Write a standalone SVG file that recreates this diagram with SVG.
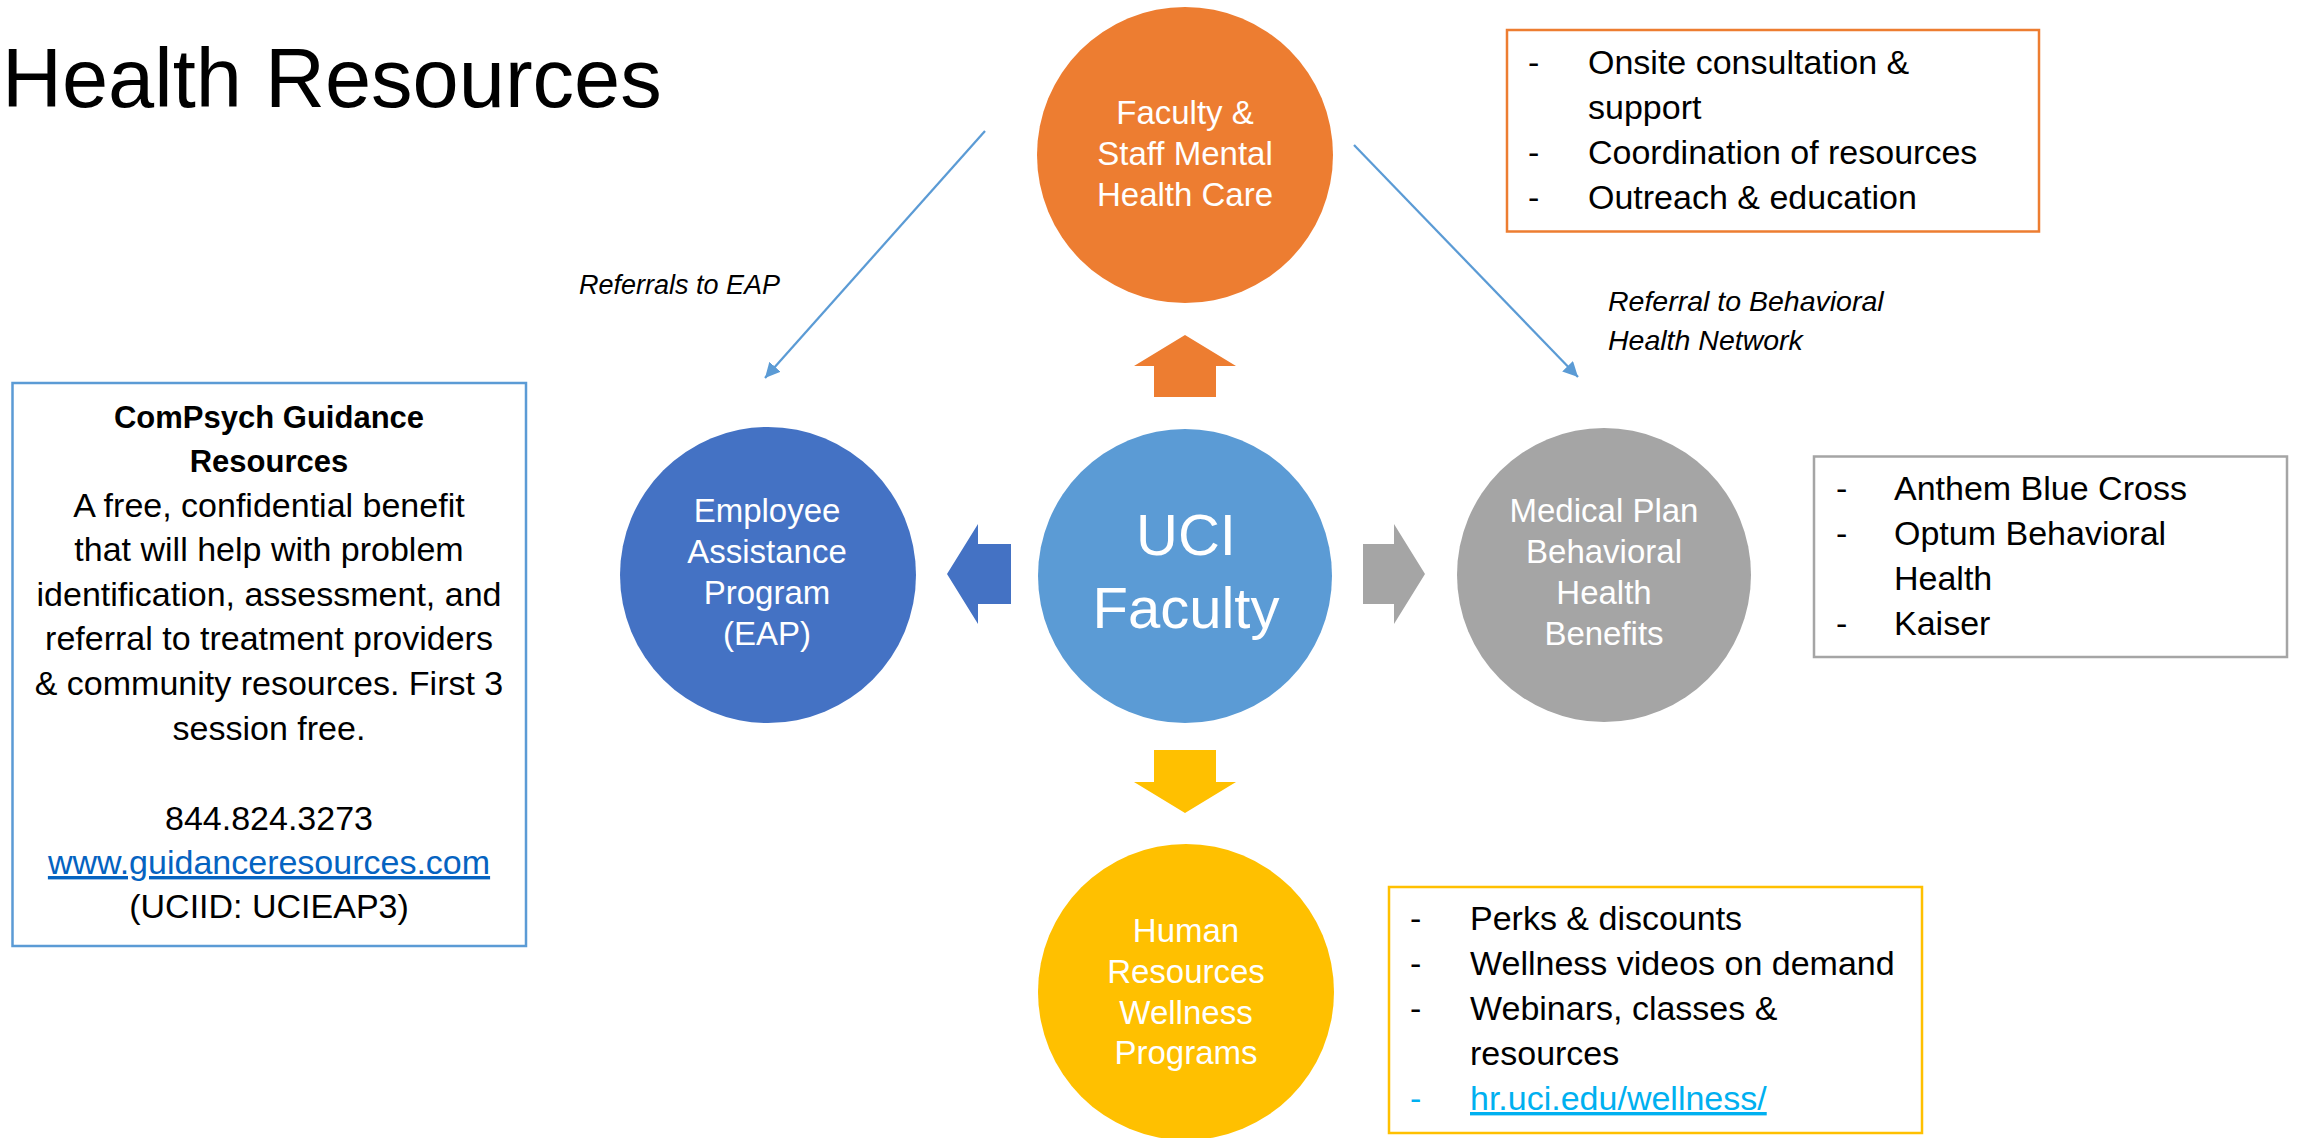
<svg xmlns="http://www.w3.org/2000/svg" width="2302" height="1138" viewBox="0 0 2302 1138">
<style>
text{font-family:"Liberation Sans",Arial,sans-serif;}
.ct{fill:#FFFFFF;font-size:33px;text-anchor:middle;}
.big{font-size:58px;}
.bt{fill:#000000;font-size:34px;}
.lbl{fill:#000000;font-size:27px;font-style:italic;}
.lbl2{font-size:28.5px;}
.box{fill:#FFFFFF;stroke-width:2.5;}
.conn{stroke:#5B9BD5;stroke-width:2.25;fill:none;}
</style>
<defs>
<marker id="ah" markerUnits="userSpaceOnUse" markerWidth="16" markerHeight="16" refX="15" refY="7.5" orient="auto">
<path d="M0,0 L15,7.5 L0,15 z" fill="#5B9BD5"/>
</marker>
</defs>
<rect x="0" y="0" width="2302" height="1138" fill="#FFFFFF"/>

<g id="title">
<text x="2" y="107" font-size="83" fill="#000000">Health Resources</text>
</g>

<g id="connectors">
<line class="conn" x1="985" y1="131" x2="765" y2="378" marker-end="url(#ah)"/>
<line class="conn" x1="1354" y1="145" x2="1578" y2="377" marker-end="url(#ah)"/>
<polygon points="1185,335 1236,366 1216,366 1216,397 1154,397 1154,366 1134,366" fill="#ED7D31"/>
<polygon points="1154,750 1216,750 1216,782 1236,782 1185,813 1134,782 1154,782" fill="#FFC000"/>
<polygon points="947,574 978,524 978,544 1011,544 1011,604 978,604 978,624" fill="#4472C4"/>
<polygon points="1363,544 1394,544 1394,524 1425,574 1394,624 1394,604 1363,604" fill="#A5A5A5"/>
</g>

<g id="label-eap">
<text class="lbl" x="579" y="294">Referrals to EAP</text>
</g>
<g id="label-bhn">
<text class="lbl lbl2" x="1608" y="311">Referral to Behavioral</text>
<text class="lbl lbl2" x="1608" y="350">Health Network</text>
</g>

<g id="node-faculty-staff">
<circle cx="1185" cy="155" r="148" fill="#ED7D31"/>
<text class="ct" x="1185" y="124">Faculty &amp;</text>
<text class="ct" x="1185" y="165">Staff Mental</text>
<text class="ct" x="1185" y="206">Health Care</text>
</g>

<g id="node-uci">
<circle cx="1185" cy="576" r="147" fill="#5B9BD5"/>
<text class="ct big" x="1186" y="555">UCI</text>
<text class="ct big" x="1186" y="628">Faculty</text>
</g>

<g id="node-eap">
<circle cx="768" cy="575" r="148" fill="#4472C4"/>
<text class="ct" x="767" y="522">Employee</text>
<text class="ct" x="767" y="563">Assistance</text>
<text class="ct" x="767" y="604">Program</text>
<text class="ct" x="767" y="645">(EAP)</text>
</g>

<g id="node-medical">
<circle cx="1604" cy="575" r="147" fill="#A5A5A5"/>
<text class="ct" x="1604" y="522">Medical Plan</text>
<text class="ct" x="1604" y="563">Behavioral</text>
<text class="ct" x="1604" y="604">Health</text>
<text class="ct" x="1604" y="645">Benefits</text>
</g>

<g id="node-hr">
<circle cx="1186" cy="992" r="148" fill="#FFC000"/>
<text class="ct" x="1186" y="942">Human</text>
<text class="ct" x="1186" y="983">Resources</text>
<text class="ct" x="1186" y="1024">Wellness</text>
<text class="ct" x="1186" y="1064">Programs</text>
</g>

<g id="box-compsych">
<rect class="box" x="12.5" y="383" width="513.5" height="563" stroke="#5B9BD5"/>
<text x="269" y="428" font-size="31" font-weight="bold" text-anchor="middle" fill="#000000">ComPsych Guidance</text>
<text x="269" y="472" font-size="31" font-weight="bold" text-anchor="middle" fill="#000000">Resources</text>
<text class="bt" x="269" y="517" text-anchor="middle">A free, confidential benefit</text>
<text class="bt" x="269" y="561" text-anchor="middle">that will help with problem</text>
<text class="bt" x="269" y="606" text-anchor="middle">identification, assessment, and</text>
<text class="bt" x="269" y="650" text-anchor="middle">referral to treatment providers</text>
<text class="bt" x="269" y="695" text-anchor="middle">&amp; community resources. First 3</text>
<text class="bt" x="269" y="740" text-anchor="middle">session free.</text>
<text class="bt" x="269" y="830" text-anchor="middle">844.824.3273</text>
<text class="bt" x="269" y="874" text-anchor="middle" style="fill:#0563C1" text-decoration="underline">www.guidanceresources.com</text>
<text class="bt" x="269" y="918" text-anchor="middle">(UCIID: UCIEAP3)</text>
</g>

<g id="box-faculty-staff">
<rect class="box" x="1507" y="30" width="532" height="201.5" stroke="#ED7D31"/>
<text class="bt" x="1528" y="74">-</text>
<text class="bt" x="1588" y="74">Onsite consultation &amp;</text>
<text class="bt" x="1588" y="119">support</text>
<text class="bt" x="1528" y="164">-</text>
<text class="bt" x="1588" y="164">Coordination of resources</text>
<text class="bt" x="1528" y="209">-</text>
<text class="bt" x="1588" y="209">Outreach &amp; education</text>
</g>

<g id="box-medical">
<rect class="box" x="1814" y="456.5" width="473" height="200.5" stroke="#A5A5A5"/>
<text class="bt" x="1836" y="500">-</text>
<text class="bt" x="1894" y="500">Anthem Blue Cross</text>
<text class="bt" x="1836" y="545">-</text>
<text class="bt" x="1894" y="545">Optum Behavioral</text>
<text class="bt" x="1894" y="590">Health</text>
<text class="bt" x="1836" y="635">-</text>
<text class="bt" x="1894" y="635">Kaiser</text>
</g>

<g id="box-hr">
<rect class="box" x="1389" y="887" width="533" height="246" stroke="#FFC000"/>
<text class="bt" x="1410" y="930">-</text>
<text class="bt" x="1470" y="930">Perks &amp; discounts</text>
<text class="bt" x="1410" y="975">-</text>
<text class="bt" x="1470" y="975">Wellness videos on demand</text>
<text class="bt" x="1410" y="1020">-</text>
<text class="bt" x="1470" y="1020">Webinars, classes &amp;</text>
<text class="bt" x="1470" y="1065">resources</text>
<text class="bt" x="1410" y="1110" style="fill:#00B0F0">-</text>
<text class="bt" x="1470" y="1110" style="fill:#00B0F0" text-decoration="underline">hr.uci.edu/wellness/</text>
</g>
</svg>
